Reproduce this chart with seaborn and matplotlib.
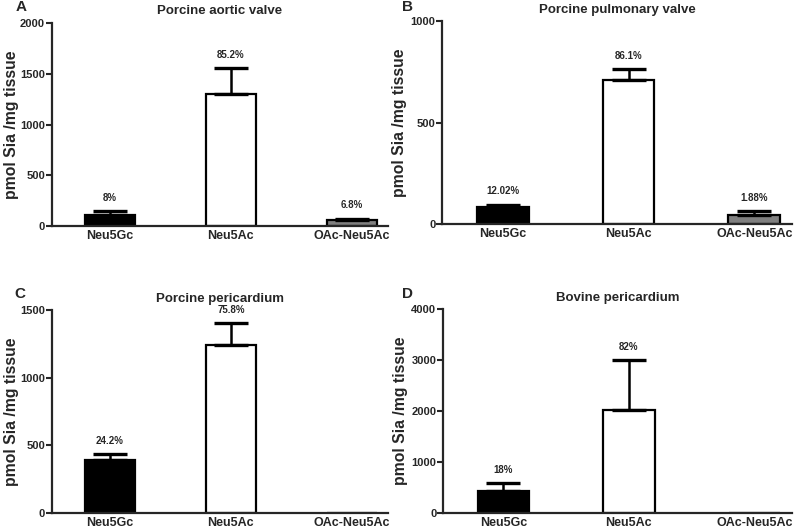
import matplotlib
matplotlib.use("Agg")
import matplotlib.pyplot as plt
import pandas as pd
import seaborn as sns

# data
categories = ["Neu5Gc", "Neu5Ac", "OAc-Neu5Ac"]
titles = ["Porcine aortic valve", "Porcine pulmonary valve",
          "Porcine pericardium", "Bovine pericardium"]
letters = ["A", "B", "C", "D"]

aortic_mean = [115, 1300, 60]
aortic_sd = [30, 255, 15]
aortic_pct = ["8%", "85.2%", "6.8%"]

pulmonary_mean = [82, 710, 45]
pulmonary_sd = [13, 55, 18]
pulmonary_pct = ["12.02%", "86.1%", "1.88%"]

porc_peri_mean = [395, 1245, 0]
porc_peri_sd = [40, 160, 0]
porc_peri_pct = ["24.2%", "75.8%", ""]

bov_peri_mean = [430, 2020, 0]
bov_peri_sd = [155, 975, 0]
bov_peri_pct = ["18%", "82%", ""]

y_max = [2000, 1000, 1500, 4000]
y_ticks = [[0, 500, 1000, 1500, 2000], [0, 500, 1000],
           [0, 500, 1000, 1500], [0, 1000, 2000, 3000, 4000]]

panels = [
    (aortic_mean, aortic_sd, aortic_pct),
    (pulmonary_mean, pulmonary_sd, pulmonary_pct),
    (porc_peri_mean, porc_peri_sd, porc_peri_pct),
    (bov_peri_mean, bov_peri_sd, bov_peri_pct),
]

bar_colors = ["black", "white", "#808080"]

sns.set_style("ticks")
plt.rcParams["font.family"] = ["Liberation Sans", "DejaVu Sans"]
plt.rcParams["font.weight"] = "bold"

fig = plt.figure(figsize=(8, 5.31), dpi=100)
positions = [
    [0.065, 0.574, 0.420, 0.383],
    [0.553, 0.578, 0.437, 0.382],
    [0.065, 0.034, 0.420, 0.382],
    [0.554, 0.034, 0.436, 0.384],
]
letter_pos = [(0.020, 0.974), (0.503, 0.974), (0.018, 0.433), (0.502, 0.433)]
ylabel_x = [-0.097, -0.102, -0.097, -0.102]

for i, (means, sds, pcts) in enumerate(panels):
    ax = fig.add_axes(positions[i])
    df = pd.DataFrame({"sialic": categories, "value": means})
    sns.barplot(data=df, x="sialic", y="value", hue="sialic",
                palette=bar_colors, edgecolor="black", linewidth=1.6,
                width=0.41, errorbar=None, legend=False, ax=ax)
    # only the upper half of the error bars is drawn, and only for measured groups
    idx = [k for k, m in enumerate(means) if m > 0]
    ax.errorbar(idx, [means[k] for k in idx],
                yerr=[[0] * len(idx), [sds[k] for k in idx]],
                fmt="none", ecolor="black", elinewidth=1.8,
                capsize=12, capthick=2.4)
    for x, (m, s, p) in enumerate(zip(means, sds, pcts)):
        if p:
            ax.annotate(p, (x, m + s), xytext=(0, 6), textcoords="offset points",
                        ha="center", va="bottom", fontsize=7, fontweight="bold")

    ax.set_ylim(0, y_max[i])
    ax.set_yticks(y_ticks[i])
    ax.set_xlim(-0.48, 2.3)
    ax.set_xlabel("")
    ax.set_ylabel("pmol Sia /mg tissue", fontsize=11.3, fontweight="bold")
    ax.yaxis.set_label_coords(ylabel_x[i], 0.5)
    ax.set_title(titles[i], fontsize=9.5, fontweight="bold", pad=6)
    ax.tick_params(axis="y", labelsize=8, width=1.5, length=4, pad=1)
    ax.tick_params(axis="x", labelsize=9, length=0, pad=3)
    for lab in ax.get_xticklabels() + ax.get_yticklabels():
        lab.set_fontweight("bold")
    sns.despine(ax=ax)
    for side in ["left", "bottom"]:
        ax.spines[side].set_linewidth(1.6)
    fig.text(letter_pos[i][0], letter_pos[i][1], letters[i],
             fontsize=11, fontweight="bold", va="bottom")

plt.savefig("out.png", dpi=100)
plt.close()
